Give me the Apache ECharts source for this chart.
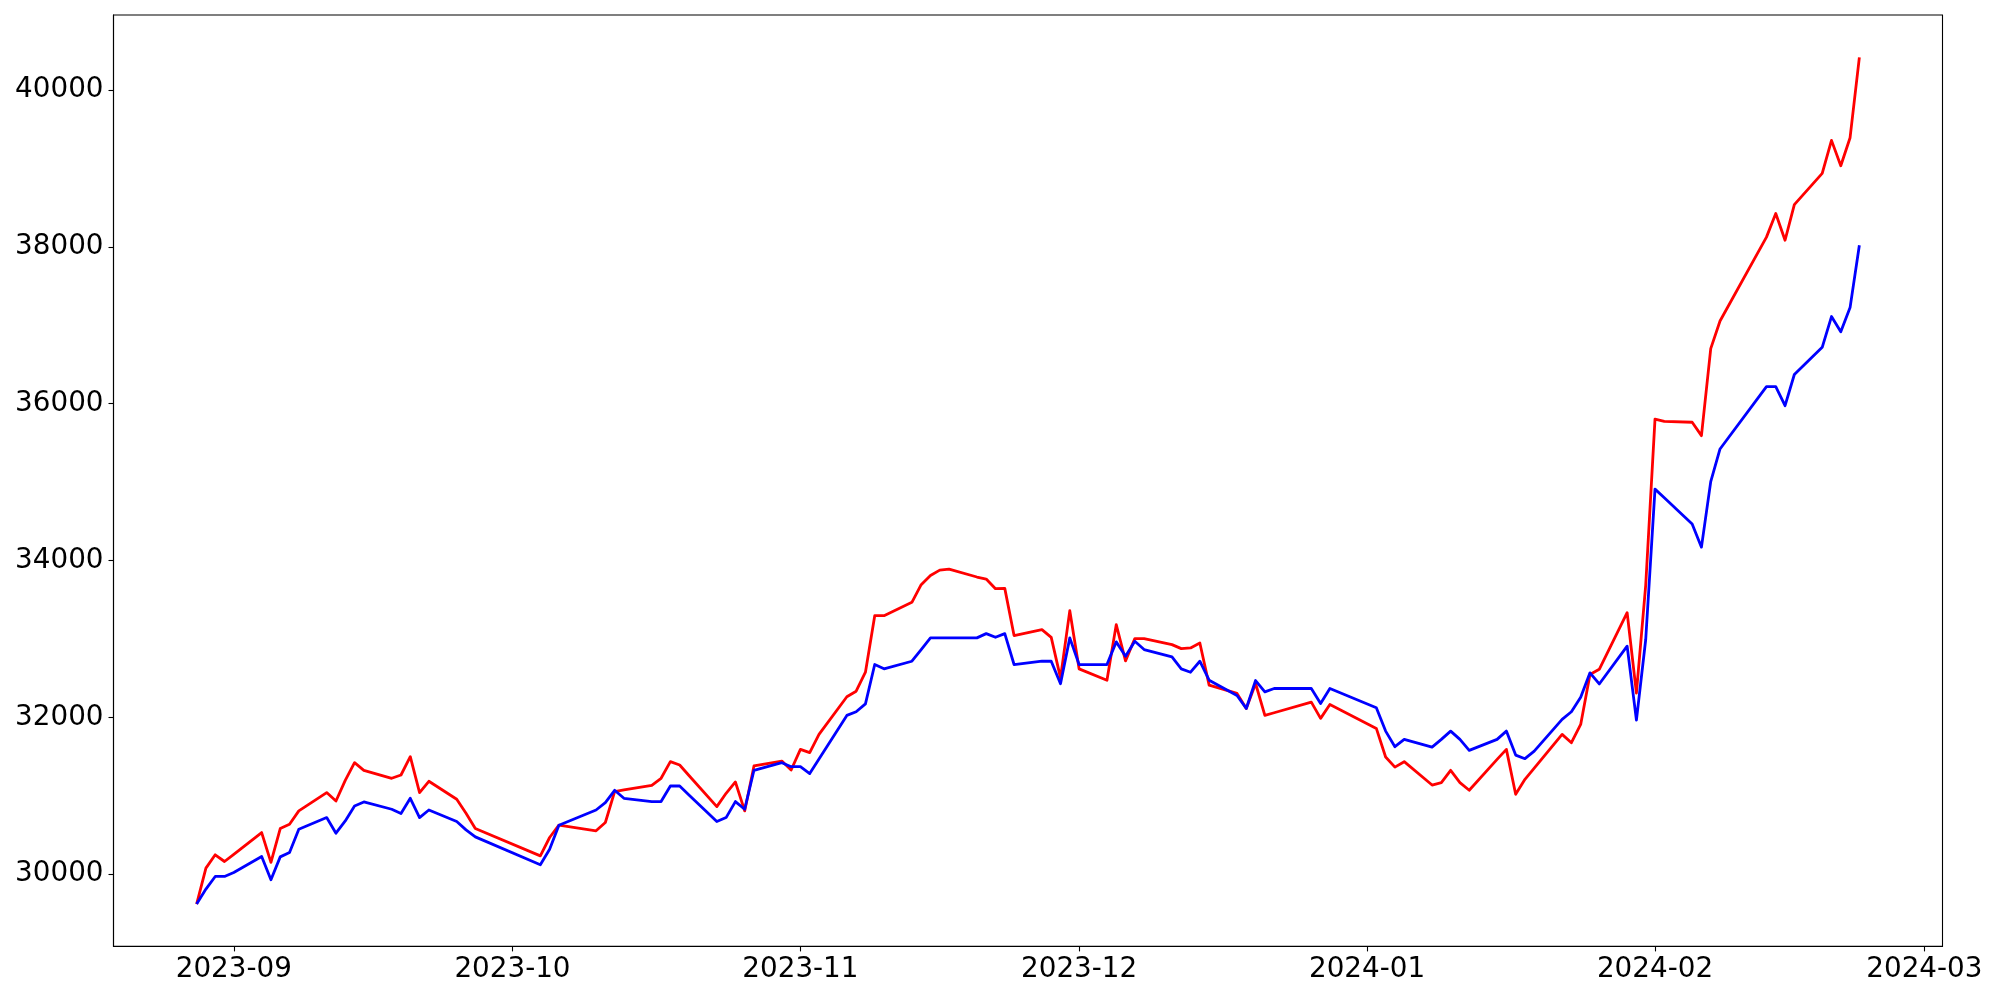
<!DOCTYPE html>
<html>
<head>
<meta charset="utf-8">
<script src="https://cdn.jsdelivr.net/npm/echarts@6/dist/echarts.min.js"></script>
<style>
html,body{margin:0;padding:0;background:#fff;}
#chart{width:2000px;height:1000px;}
</style>
</head>
<body>
<div id="chart"></div>
<script>
// ---- data ----
const dates = [
  '2023-08-28','2023-08-29','2023-08-30','2023-08-31','2023-09-01',
  '2023-09-04','2023-09-05','2023-09-06','2023-09-07','2023-09-08',
  '2023-09-11','2023-09-12','2023-09-13','2023-09-14','2023-09-15',
  '2023-09-18','2023-09-19','2023-09-20','2023-09-21','2023-09-22',
  '2023-09-25','2023-09-26','2023-09-27',
  '2023-10-04','2023-10-05','2023-10-06',
  '2023-10-10','2023-10-11','2023-10-12','2023-10-13',
  '2023-10-16','2023-10-17','2023-10-18','2023-10-19','2023-10-20',
  '2023-10-23','2023-10-24','2023-10-25','2023-10-26','2023-10-27',
  '2023-10-30','2023-10-31','2023-11-01','2023-11-02','2023-11-03',
  '2023-11-06','2023-11-07','2023-11-08','2023-11-09','2023-11-10',
  '2023-11-13','2023-11-14','2023-11-15','2023-11-16','2023-11-17',
  '2023-11-20','2023-11-21','2023-11-22','2023-11-23','2023-11-24',
  '2023-11-27','2023-11-28','2023-11-29','2023-11-30','2023-12-01',
  '2023-12-04','2023-12-05','2023-12-06','2023-12-07','2023-12-08',
  '2023-12-11','2023-12-12','2023-12-13','2023-12-14','2023-12-15',
  '2023-12-18','2023-12-19','2023-12-20','2023-12-21','2023-12-22',
  '2023-12-26','2023-12-27','2023-12-28',
  '2024-01-02','2024-01-03','2024-01-04','2024-01-05',
  '2024-01-08','2024-01-09','2024-01-10','2024-01-11','2024-01-12',
  '2024-01-15','2024-01-16','2024-01-17','2024-01-18','2024-01-19',
  '2024-01-22','2024-01-23','2024-01-24','2024-01-25','2024-01-26',
  '2024-01-29','2024-01-30','2024-01-31','2024-02-01','2024-02-02',
  '2024-02-05','2024-02-06','2024-02-07','2024-02-08',
  '2024-02-13','2024-02-14','2024-02-15','2024-02-16',
  '2024-02-19','2024-02-20','2024-02-21','2024-02-22','2024-02-23'
];

const redValues = [
  29618,30076,30246,30161,30253,
  30530,30149,30581,30636,30806,
  31040,30933,31196,31421,31324,
  31222,31264,31498,31040,31184,
  30955,30776,30581,
  30233,30467,30624,
  30552,30658,31052,31073,
  31133,31222,31434,31391,31258,
  30861,31031,31175,30806,31379,
  31442,31328,31591,31549,31782,
  32262,32333,32575,33296,33296,
  33466,33691,33809,33877,33890,
  33789,33763,33640,33644,33042,
  33118,33020,32503,33360,32618,
  32473,33182,32720,33004,33004,
  32927,32876,32885,32948,32410,
  32304,32113,32431,32024,32058,
  32193,31986,32164,
  31858,31493,31365,31434,
  31136,31167,31324,31167,31069,
  31463,31591,31018,31209,31352,
  31782,31676,31909,32545,32612,
  33334,32310,33686,35803,35774,
  35763,35592,36702,37054,
  38124,38425,38084,38539,
  38937,39358,39034,39392,40417
];

const blueValues = [
  29618,29809,29970,29970,30021,
  30225,29928,30220,30276,30573,
  30721,30522,30678,30869,30920,
  30827,30772,30967,30721,30818,
  30670,30564,30475,
  30119,30318,30624,
  30818,30912,31069,30967,
  30925,30925,31124,31124,31010,
  30670,30721,30925,30827,31324,
  31421,31370,31370,31282,31467,
  32024,32071,32172,32673,32618,
  32715,32864,33013,33013,33013,
  33013,33067,33020,33067,32673,
  32715,32715,32427,33013,32673,
  32673,32962,32778,32969,32864,
  32770,32618,32575,32715,32473,
  32278,32113,32469,32325,32367,
  32367,32176,32367,
  32121,31824,31625,31718,
  31620,31718,31824,31718,31578,
  31718,31824,31518,31472,31569,
  31973,32071,32257,32567,32425,
  32907,31963,32992,34910,34800,
  34466,34170,35006,35422,
  36218,36218,35974,36372,
  36719,37111,36918,37225,38021
];

const yTickValues = [30000, 32000, 34000, 36000, 38000, 40000];
const xTickDates = ['2023-09-01','2023-10-01','2023-11-01','2023-12-01','2024-01-01','2024-02-01','2024-03-01'];

// ---- helpers ----
function toTs(s) {
  const p = s.split('-').map(Number);
  return Date.UTC(p[0], p[1] - 1, p[2]);
}
const firstTs = toTs(dates[0]);
const lastTs = toTs(dates[dates.length - 1]);
const span = lastTs - firstTs;
const xMin = firstTs - 0.05 * span;
const xMax = lastTs + 0.05 * span;

const yDataMin = Math.min(Math.min.apply(null, redValues), Math.min.apply(null, blueValues));
const yDataMax = Math.max(Math.max.apply(null, redValues), Math.max.apply(null, blueValues));
const yPad = 0.05 * (yDataMax - yDataMin);
const yMin = yDataMin - yPad;
const yMax = yDataMax + yPad;

const xTickTs = xTickDates.map(toTs);

function fmtMonth(v) {
  const d = new Date(v);
  const m = d.getUTCMonth() + 1;
  return d.getUTCFullYear() + '-' + (m < 10 ? '0' + m : '' + m);
}

const FONT = 'DejaVu Sans';
const FS = 27.8;

const chart = echarts.init(document.getElementById('chart'), null, {renderer: 'canvas'});
chart.setOption({
  animation: false,
  backgroundColor: '#ffffff',
  grid: {
    left: 113.5, right: 57.5, top: 15, bottom: 53.6,
    show: true, borderColor: '#000', borderWidth: 1.1,
    containLabel: false
  },
  xAxis: {
    type: 'value',
    min: xMin, max: xMax,
    axisLine: {show: true, lineStyle: {color: '#000', width: 1.1}},
    axisTick: {show: true, inside: false, length: 5, lineStyle: {color: '#000', width: 1.1}, customValues: xTickTs},
    axisLabel: {
      customValues: xTickTs,
      formatter: function (v) { return fmtMonth(v); },
      color: '#000', fontFamily: FONT, fontSize: FS, margin: 9
    },
    splitLine: {show: false}
  },
  yAxis: {
    type: 'value',
    min: yMin, max: yMax,
    axisLine: {show: true, lineStyle: {color: '#000', width: 1.1}},
    axisTick: {show: true, inside: false, length: 5, lineStyle: {color: '#000', width: 1.1}, customValues: yTickValues},
    axisLabel: {
      customValues: yTickValues,
      formatter: function (v) { return String(Math.round(v)); },
      color: '#000', fontFamily: FONT, fontSize: FS, margin: 10
    },
    splitLine: {show: false}
  },
  series: [
    {
      type: 'line',
      data: dates.map((d, i) => [toTs(d), redValues[i]]),
      showSymbol: false, symbol: 'none',
      lineStyle: {color: '#ff0000', width: 2.8, join: 'round', cap: 'butt'},
      itemStyle: {color: '#ff0000'},
      z: 2
    },
    {
      type: 'line',
      data: dates.map((d, i) => [toTs(d), blueValues[i]]),
      showSymbol: false, symbol: 'none',
      lineStyle: {color: '#0000ff', width: 2.8, join: 'round', cap: 'butt'},
      itemStyle: {color: '#0000ff'},
      z: 3
    }
  ]
});
</script>
</body>
</html>
